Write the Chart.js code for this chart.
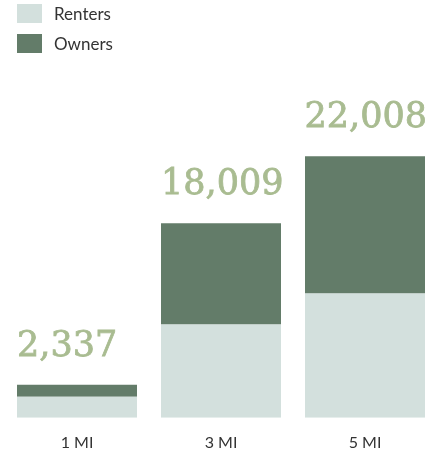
<!DOCTYPE html>
<html>
<head>
<meta charset="utf-8">
<script src="https://cdn.jsdelivr.net/npm/chart.js@4.4.1/dist/chart.umd.min.js"></script>
<style>
    html, body { margin: 0; padding: 0; background: #fff; overflow: hidden; }
    #wrap { position: relative; width: 429px; height: 455px; overflow: hidden; }
    #chart { position: absolute; left: 0; top: 0; }
    #legend { position: absolute; left: 17px; top: 3px; font-family: Lato, sans-serif; font-size: 17px; color: #333; }
    .item { display: flex; align-items: center; height: 20px; margin-bottom: 10px; }
    .swatch { width: 25px; height: 19px; margin-right: 12px; }
</style>
</head>
<body>
<div id="wrap">
    <canvas id="chart"></canvas>
    <div id="legend"></div>
</div>
<script>
const categories = ['1 MI', '3 MI', '5 MI'];
const renters = [1770, 7840, 10450];
const owners = [1010, 8520, 11550];
const totalLabels = ['2,337', '18,009', '22,008'];

const rentersColor = '#d3e0dd';
const ownersColor = '#637c69';
const labelColor = '#a9bc91';

// big serif figure sitting above each stack
const totalsPlugin = {
    id: 'totals',
    afterDatasetsDraw(chart) {
        const ctx = chart.ctx;
        const topMeta = chart.getDatasetMeta(1);
        ctx.save();
        ctx.font = '35px "DejaVu Serif"';
        ctx.fillStyle = labelColor;
        ctx.strokeStyle = labelColor;
        ctx.lineWidth = 0.8;
        ctx.textBaseline = 'alphabetic';
        ctx.textAlign = 'left';
        topMeta.data.forEach((bar, i) => {
            const text = totalLabels[i];
            const w = ctx.measureText(text).width;
            let x = bar.x - bar.width / 2;
            if (x + w > 427) x = 427 - w;
            ctx.fillText(text, x, bar.y - 29);
            ctx.strokeText(text, x, bar.y - 29);
        });
        ctx.restore();
    }
};

// canvas runs a little past the visible box so the three slots stay 144px wide
const canvas = document.getElementById('chart');
canvas.width = 442;
canvas.height = 472;

const chart = new Chart(canvas, {
    type: 'bar',
    data: {
        labels: categories,
        datasets: [
            { label: 'Renters', data: renters, backgroundColor: rentersColor },
            { label: 'Owners', data: owners, backgroundColor: ownersColor }
        ]
    },
    options: {
        responsive: false,
        animation: false,
        layout: { padding: { left: 5, right: 5, top: 0, bottom: 5 } },
        datasets: { bar: { categoryPercentage: 1, barPercentage: 120 / 144 } },
        plugins: {
            legend: { display: false },
            tooltip: { enabled: false }
        },
        scales: {
            x: {
                stacked: true,
                grid: { display: false, drawTicks: false },
                border: { display: false },
                ticks: {
                    padding: 15,
                    color: '#333',
                    font: { family: 'Lato', size: 16 }
                }
            },
            y: {
                stacked: true,
                display: false,
                min: 0,
                max: 35150
            }
        }
    },
    plugins: [totalsPlugin]
});

// legend rows built from the datasets
const legendEl = document.getElementById('legend');
chart.data.datasets.forEach(ds => {
    const row = document.createElement('div');
    row.className = 'item';
    const sw = document.createElement('span');
    sw.className = 'swatch';
    sw.style.background = ds.backgroundColor;
    const txt = document.createElement('span');
    txt.textContent = ds.label;
    row.appendChild(sw);
    row.appendChild(txt);
    legendEl.appendChild(row);
});
</script>
</body>
</html>
